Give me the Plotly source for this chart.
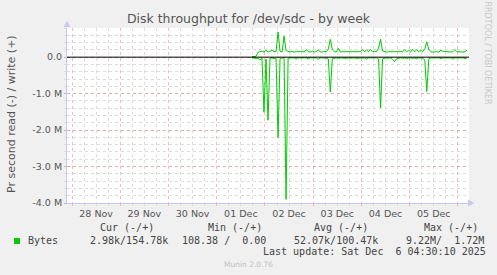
import plotly.graph_objects as go
import pandas as pd

# ---------------- data (values in M bytes/s, hourly samples) ----------------
sample_start = "2025-12-01 17:30"
write_M = [
    0.02, 0.02, 0.02, 0.13, 0.15, 0.17, 0.14, 0.19, 0.14, 0.16, 0.19, 0.15,
    0.15, 0.69, 0.16, 0.14, 0.58, 0.18, 0.15, 0.14, 0.16, 0.14, 0.15, 0.14,
    0.15, 0.16, 0.14, 0.21, 0.15, 0.14, 0.17, 0.14, 0.15, 0.20, 0.15, 0.14,
    0.16, 0.15, 0.22, 0.49, 0.21, 0.15, 0.14, 0.24, 0.14, 0.15, 0.15, 0.14,
    0.15, 0.15, 0.15, 0.15, 0.15, 0.15, 0.15, 0.21, 0.15, 0.20, 0.15, 0.21,
    0.15, 0.16, 0.15, 0.25, 0.49, 0.17, 0.15, 0.14, 0.15, 0.15, 0.15, 0.14,
    0.15, 0.14, 0.16, 0.15, 0.20, 0.15, 0.19, 0.14, 0.22, 0.15, 0.20, 0.15,
    0.19, 0.15, 0.23, 0.42, 0.21, 0.15, 0.14, 0.15, 0.15, 0.14, 0.19, 0.16,
    0.15, 0.14, 0.15, 0.14, 0.15, 0.21, 0.15, 0.14, 0.15, 0.14, 0.15, 0.19,
]
read_M = [
    0.02, 0.02, 0.05, 0.03, 0.08, 0.02, 1.51, 0.05, 1.73, 0.03, 0.02, 0.04,
    0.03, 2.20, 0.04, 0.02, 0.03, 3.90, 0.02, 0.03, 0.02, 0.02, 0.05, 0.02,
    0.02, 0.04, 0.02, 0.02, 0.05, 0.02, 0.02, 0.03, 0.02, 0.06, 0.02, 0.02,
    0.02, 0.03, 0.05, 0.96, 0.04, 0.02, 0.02, 0.03, 0.02, 0.02, 0.04, 0.02,
    0.02, 0.03, 0.02, 0.02, 0.04, 0.02, 0.02, 0.03, 0.02, 0.05, 0.02, 0.02,
    0.02, 0.03, 0.02, 0.05, 1.39, 0.04, 0.02, 0.02, 0.03, 0.02, 0.06, 0.12,
    0.04, 0.02, 0.02, 0.03, 0.02, 0.05, 0.02, 0.02, 0.04, 0.02, 0.05, 0.02,
    0.02, 0.03, 0.08, 0.94, 0.05, 0.02, 0.02, 0.03, 0.02, 0.02, 0.04, 0.02,
    0.02, 0.03, 0.02, 0.02, 0.05, 0.02, 0.02, 0.03, 0.02, 0.02, 0.04, 0.02,
]
x_range = ["2025-11-27 21:30", "2025-12-06 05:30"]
y_tickvals = [0, -1e6, -2e6, -3e6, -4e6]
y_ticktext = ["0.0", "-1.0 M", "-2.0 M", "-3.0 M", "-4.0 M"]
title = "Disk throughput for /dev/sdc - by week"
y_title = "Pr second read (-) / write (+)"
legend_headers = ["Cur (-/+)", "Min (-/+)", "Avg (-/+)", "Max (-/+)"]
legend_name = "Bytes"
legend_values = ["2.98k/154.78k", "108.38 /  0.00", "52.07k/100.47k", "9.22M/  1.72M"]
last_update = "Last update: Sat Dec  6 04:30:10 2025"
munin_version = "Munin 2.0.76"
watermark = "RRDTOOL / TOBI OETIKER"

GREEN = "#00cc00"
AXIS = "#c8c8f8"
MINOR = "#dcdcdc"
MAJOR = "rgba(235,120,120,0.5)"

times = pd.date_range(sample_start, periods=len(write_M), freq="h")

# ---------------- layout geometry ----------------
W, H = 497, 275
L, R, T, B = 67, 469, 28, 203


def px(x):
    return (x - L) / (R - L)


def py(y):
    return (B - y) / (B - T)


fig = go.Figure()
fig.add_trace(go.Scatter(x=times, y=[v * 1e6 for v in write_M], mode="lines",
                         line=dict(color=GREEN, width=1), showlegend=False))
fig.add_trace(go.Scatter(x=times, y=[-v * 1e6 for v in read_M], mode="lines",
                         line=dict(color=GREEN, width=1), showlegend=False))

fig.update_layout(
    width=W, height=H,
    margin=dict(l=L, r=W - R, t=T, b=H - B),
    paper_bgcolor="#f0f0f0", plot_bgcolor="#ffffff",
    title=dict(text=title, x=0.5, xanchor="center", xref="container",
               y=1 - 19 / H, yref="container", yanchor="middle",
               font=dict(family="DejaVu Sans", size=12.5, color="#555555")),
    font=dict(family="DejaVu Sans", size=10, color="#555555"),
)

tickfont = dict(family="DejaVu Sans", size=9.5, color="#555555")

fig.update_xaxes(
    type="date", range=x_range,
    tick0="2025-11-28", dtick=86400000, tickformat="%d %b",
    ticklabelmode="period",
    showgrid=True, gridcolor=MAJOR, griddash="dot", gridwidth=1,
    ticks="outside", ticklen=2, tickcolor=MAJOR,
    minor=dict(dtick=6 * 3600000, tick0="2025-11-28", showgrid=True,
               gridcolor=MINOR, griddash="dot", ticks="outside", ticklen=2,
               tickcolor=MINOR),
    showline=True, linecolor=AXIS, linewidth=1,
    zeroline=False, fixedrange=True,
    tickfont=tickfont,
)
fig.update_yaxes(
    range=[-4.0e6, 0.8e6],
    tickmode="array", tickvals=y_tickvals, ticktext=y_ticktext,
    showgrid=True, gridcolor=MAJOR, griddash="dot", gridwidth=1,
    ticks="outside", ticklen=2, tickcolor=MAJOR,
    minor=dict(tick0=0, dtick=2e5, showgrid=True, gridcolor=MINOR,
               griddash="dot", ticks="outside", ticklen=2, tickcolor=MINOR),
    showline=True, linecolor=AXIS, linewidth=1,
    zeroline=False,
    tickfont=tickfont,
)

# zero line (drawn on top like the rrdtool HRULE)
fig.add_shape(type="line", xref="paper", yref="y", x0=0, x1=1, y0=0, y1=0,
              line=dict(color="black", width=1), layer="above")

# axis arrows
fig.add_shape(type="path", xref="paper", yref="paper",
              path=f"M {px(63.5)},{py(27)} L {px(70.5)},{py(27)} L {px(67)},{py(21)} Z",
              fillcolor=AXIS, line=dict(width=0))
fig.add_shape(type="path", xref="paper", yref="paper",
              path=f"M {px(468)},{py(199.5)} L {px(468)},{py(206.5)} L {px(474.5)},{py(203)} Z",
              fillcolor=AXIS, line=dict(width=0))

# y axis title
fig.add_annotation(text=y_title, xref="paper", yref="paper", x=px(11), y=py(114),
                   textangle=-90, showarrow=False, xanchor="center", yanchor="middle",
                   font=dict(family="DejaVu Sans", size=11, color="#555555"))

# watermark
fig.add_annotation(text=watermark, xref="paper", yref="paper", x=px(487), y=py(53.5),
                   textangle=90, showarrow=False, xanchor="center", yanchor="middle",
                   font=dict(family="DejaVu Sans", size=8, color="#c8c8c8"))

mono = dict(family="DejaVu Sans Mono", size=10, color="#444444")


def text_at(s, x, y, anchor="left", font=mono):
    fig.add_annotation(text=s.replace(" ", "\u00a0"), xref="paper", yref="paper",
                       x=px(x), y=py(y), showarrow=False, xanchor=anchor,
                       yanchor="middle", borderpad=0, font=font)


header_x = [98.7, 206.7, 313.3, 422.7]
for s, x in zip(legend_headers, header_x):
    text_at(s, x, 227.7)

value_x = [89.3, 181.0, 293.3, 405.3]
text_at(legend_name, 26.7, 240.3)
for s, x in zip(legend_values, value_x):
    text_at(s, x, 240.3)

text_at(last_update, 261.7, 251.9)
text_at(munin_version, 223.0, 264.0,
        font=dict(family="DejaVu Sans", size=7.5, color="#c0c0c0"))

# legend colour square
fig.add_shape(type="rect", xref="paper", yref="paper",
              x0=px(14), x1=px(20), y0=py(244), y1=py(238),
              fillcolor=GREEN, line=dict(width=0))

fig.write_html("out.html")
